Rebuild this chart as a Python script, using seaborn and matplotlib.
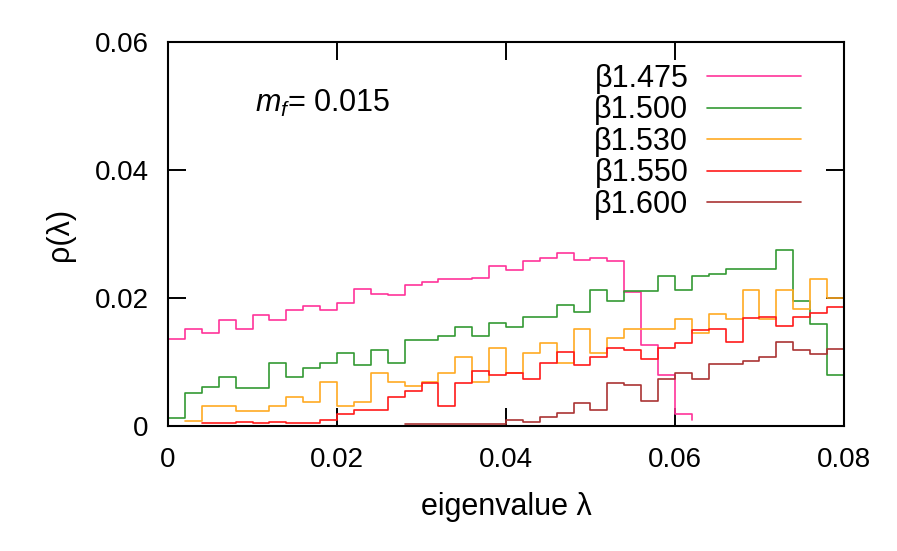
import numpy as np
import pandas as pd
import matplotlib
matplotlib.use('Agg')
import matplotlib.pyplot as plt
import seaborn as sns

# histogram bins: width 0.002 in lambda, 40 bins from 0 to 0.08
bin_width = 0.002

# step heights, with the index of the first bin drawn
b1475_start = 0
b1475 = [0.0136, 0.0152, 0.0146, 0.0165, 0.0151, 0.0174, 0.0166, 0.0182, 0.0187, 0.0181,
         0.0192, 0.0214, 0.0207, 0.0204, 0.0220, 0.0225, 0.0229, 0.0229, 0.0231, 0.0250,
         0.0243, 0.0258, 0.0263, 0.0271, 0.0260, 0.0263, 0.0258, 0.0209, 0.0127, 0.0079,
         0.0019]
b1475_tail = 0.0009

b1500_start = 0
b1500 = [0.0013, 0.0052, 0.0061, 0.0077, 0.0060, 0.0060, 0.0098, 0.0077, 0.0091, 0.0098,
         0.0114, 0.0096, 0.0119, 0.0099, 0.0134, 0.0134, 0.0141, 0.0154, 0.0140, 0.0161,
         0.0155, 0.0170, 0.0170, 0.0189, 0.0178, 0.0212, 0.0195, 0.0211, 0.0211, 0.0235,
         0.0212, 0.0235, 0.0237, 0.0246, 0.0246, 0.0246, 0.0275, 0.0195, 0.0159, 0.0079]

b1530_start = 1
b1530 = [0.0007, 0.0031, 0.0031, 0.0023, 0.0023, 0.0031, 0.0045, 0.0038, 0.0068,
         0.0031, 0.0038, 0.0083, 0.0068, 0.0062, 0.0068, 0.0083, 0.0107, 0.0068, 0.0122,
         0.0083, 0.0114, 0.0129, 0.0099, 0.0152, 0.0114, 0.0137, 0.0152, 0.0152, 0.0152,
         0.0167, 0.0145, 0.0175, 0.0167, 0.0213, 0.0167, 0.0213, 0.0183, 0.0229, 0.0200]

b1550_start = 2
b1550 = [0.0004, 0.0004, 0.0006, 0.0004, 0.0006, 0.0004, 0.0004, 0.0009,
         0.0019, 0.0025, 0.0025, 0.0045, 0.0055, 0.0067, 0.0031, 0.0067, 0.0086, 0.0079,
         0.0083, 0.0074, 0.0098, 0.0116, 0.0095, 0.0107, 0.0122, 0.0119, 0.0104, 0.0122,
         0.0129, 0.0150, 0.0152, 0.0131, 0.0168, 0.0170, 0.0156, 0.0170, 0.0177, 0.0186]

b1600_start = 14
b1600 = [0.0003, 0.0003, 0.0003, 0.0003, 0.0003, 0.0003,
         0.0009, 0.0006, 0.0014, 0.0021, 0.0036, 0.0025, 0.0067, 0.0064, 0.0039, 0.0073,
         0.0082, 0.0073, 0.0097, 0.0097, 0.0101, 0.0107, 0.0131, 0.0119, 0.0113, 0.0121]

labels = ['β1.475', 'β1.500', 'β1.530', 'β1.550', 'β1.600']
colors = ['#ff3399', '#339933', '#ffaa22', '#ff1a1a', '#aa3333']

x_ticks = [0, 0.02, 0.04, 0.06, 0.08]
x_ticklabels = ['0', '0.02', '0.04', '0.06', '0.08']
y_ticks = [0, 0.02, 0.04, 0.06]
y_ticklabels = ['0', '0.02', '0.04', '0.06']


def steps(start, vals, label, tail=None):
    # left edges of each bin, plus the closing right edge repeating the last height
    x = [(start + i) * bin_width for i in range(len(vals))]
    y = list(vals)
    x.append((start + len(vals)) * bin_width)
    y.append(tail if tail is not None else vals[-1])
    return pd.DataFrame({'lam': x, 'rho': y, 'beta': label})


df = pd.concat([
    steps(b1475_start, b1475, labels[0], b1475_tail),
    steps(b1500_start, b1500, labels[1]),
    steps(b1530_start, b1530, labels[2]),
    steps(b1550_start, b1550, labels[3]),
    steps(b1600_start, b1600, labels[4]),
], ignore_index=True)

sns.set_style('ticks')
plt.rcParams['font.family'] = ['Liberation Sans', 'DejaVu Sans']
plt.rcParams['mathtext.fontset'] = 'custom'
plt.rcParams['mathtext.rm'] = 'Liberation Sans'
plt.rcParams['mathtext.it'] = 'Liberation Sans:italic'
plt.rcParams['text.color'] = 'black'
plt.rcParams['axes.labelcolor'] = 'black'
plt.rcParams['xtick.color'] = 'black'
plt.rcParams['ytick.color'] = 'black'

fig = plt.figure(figsize=(8.97, 5.51), dpi=100)
ax = fig.add_axes([0.1873, 0.2269, 0.7536, 0.6969])

sns.lineplot(data=df, x='lam', y='rho', hue='beta', hue_order=labels,
             palette=colors, drawstyle='steps-post', estimator=None,
             linewidth=1.2, legend=False, ax=ax)

ax.set_xlim(0, 0.08)
ax.set_ylim(0, 0.06)
ax.set_xticks(x_ticks)
ax.set_xticklabels(x_ticklabels)
ax.set_yticks(y_ticks)
ax.set_yticklabels(y_ticklabels)
ax.tick_params(direction='in', length=13, width=1.4, labelsize=20,
               top=True, right=True, color='black', labelcolor='black')
ax.tick_params(axis='x', pad=15)
ax.tick_params(axis='y', pad=14)
for s in ax.spines.values():
    s.set_visible(True)
    s.set_linewidth(1.5)
    s.set_color('black')

ax.set_xlabel('eigenvalue λ', fontsize=22, labelpad=14)
ax.set_ylabel('ρ(λ)', fontsize=22, labelpad=14)

ax.text(0.129, 0.818, r'$m_f$= 0.015', transform=ax.transAxes,
        fontsize=22, va='baseline', ha='left')

ax.legend(ax.lines[:5], labels, loc='upper right', frameon=False,
          markerfirst=False, fontsize=22, handlelength=3.1,
          handletextpad=0.6, labelspacing=0.05,
          bbox_to_anchor=(0.955, 0.975), borderaxespad=0)

plt.savefig('out.png', dpi=100)
